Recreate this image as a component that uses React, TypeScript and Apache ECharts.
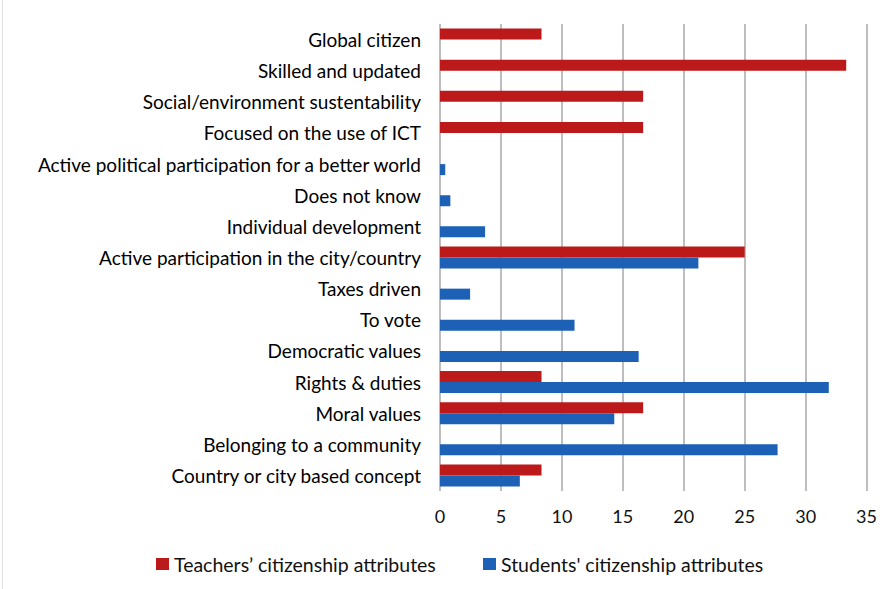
import React, { useEffect, useRef } from "react";
import * as echarts from "echarts";

const categories = [
  "Global citizen",
  "Skilled and updated",
  "Social/environment sustentability",
  "Focused on the use of ICT",
  "Active political participation for a better world",
  "Does not know",
  "Individual development",
  "Active participation in the city/country",
  "Taxes driven",
  "To vote",
  "Democratic values",
  "Rights & duties",
  "Moral values",
  "Belonging to a community",
  "Country or city based concept",
];

const teachers: (number | null)[] = [
  8.33, 33.33, 16.67, 16.67, null, null, null, 25, null, null, null, 8.33, 16.67, null, 8.33,
];

const students: (number | null)[] = [
  null, null, null, null, 0.43, 0.85, 3.7, 21.2, 2.47, 11.04, 16.3, 31.9, 14.3, 27.7, 6.55,
];

const xTicks = { min: 0, max: 35, interval: 5 };

const seriesNames = ["Teachers\u2019 citizenship attributes", "Students' citizenship attributes"];
const colors = ["#BC1A1A", "#1C61B6"];

const FONT = "Lato";

export default function App() {
  const ref = useRef<HTMLDivElement>(null);
  useEffect(() => {
    if (!ref.current) return;
    const chart = echarts.init(ref.current, undefined, { renderer: "svg" });
    chart.setOption({
      animation: false,
      backgroundColor: "#ffffff",
      grid: { left: 440, right: 12, top: 24, bottom: 98, containLabel: false },
      legend: {
        top: 549,
        left: 151,
        itemWidth: 13,
        itemHeight: 12,
        itemGap: 47,
        icon: "rect",
        textStyle: { fontFamily: FONT, fontSize: 19.5, color: "#111" },
        data: seriesNames,
      },
      xAxis: {
        type: "value",
        min: xTicks.min,
        max: xTicks.max,
        interval: xTicks.interval,
        axisLine: { show: false },
        axisTick: { show: false },
        axisLabel: { fontFamily: FONT, fontSize: 18, color: "#111", margin: 16 },
        splitLine: { show: true, lineStyle: { color: "#A8A8A8", width: 1.5 } },
      },
      yAxis: {
        type: "category",
        inverse: true,
        data: categories,
        axisLine: { show: false },
        axisTick: { show: false },
        axisLabel: { fontFamily: FONT, fontSize: 19, color: "#000", margin: 19 },
      },
      series: [
        {
          name: seriesNames[0],
          type: "bar",
          data: teachers,
          barWidth: 11,
          barGap: "0%",
          itemStyle: { color: colors[0] },
        },
        {
          name: seriesNames[1],
          type: "bar",
          data: students,
          barWidth: 11,
          barGap: "0%",
          itemStyle: { color: colors[1] },
        },
      ],
      graphic: [
        {
          type: "line",
          shape: { x1: 2.5, y1: 0, x2: 2.5, y2: 589 },
          style: { stroke: "#E0E0E0", lineWidth: 1 },
        },
      ],
    });
    return () => chart.dispose();
  }, []);
  return (
    <div
      ref={ref}
      style={{ position: "absolute", left: 0, top: 0, width: 880, height: 589 }}
    />
  );
}
